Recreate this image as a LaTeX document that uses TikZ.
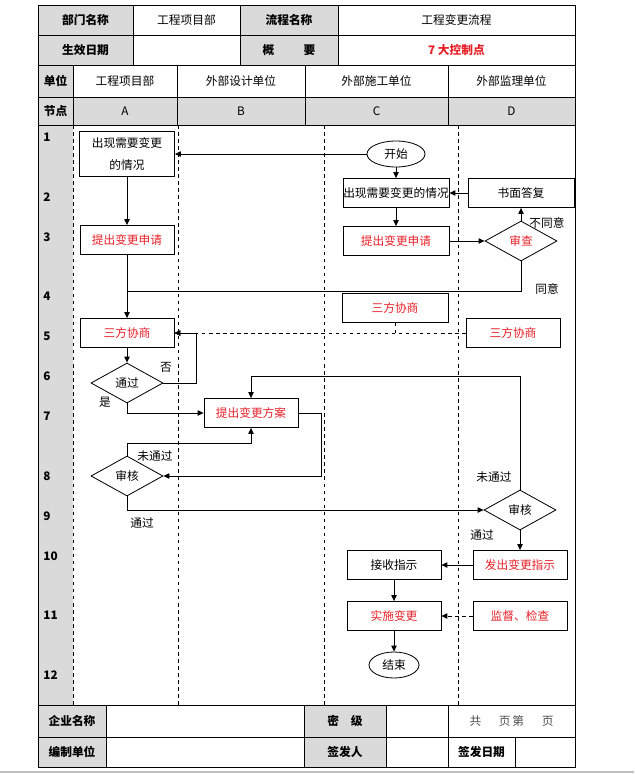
\documentclass[tikz,border=0pt]{standalone}
\usepackage{fontspec}
\setmainfont{Noto Sans CJK SC}
\usepackage{tikz}
\usetikzlibrary{positioning,shapes.geometric,arrows.meta}
\definecolor{sheetred}{RGB}{232,32,40}
\definecolor{sheetgray}{RGB}{218,218,218}

\begin{document}
\begin{tikzpicture}[x=0.03cm, y=-0.03cm, line width=0.7pt,
  >={Triangle[length=5pt,width=4.5pt]},
  box/.style={shape=rectangle, draw=black, minimum width=2.82cm, minimum height=0.87cm, inner sep=0pt},
  widebox/.style={box, minimum width=3.18cm},
  redtext/.style={text=sheetred},
  decision/.style={shape=diamond, draw=black, minimum width=2.16cm, minimum height=1.2cm, inner sep=0pt, aspect=1.8},
  terminal/.style={shape=ellipse, draw=black, minimum width=1.74cm, minimum height=0.78cm, inner sep=0pt},
  headcell/.style={font=\bfseries},
  lane/.style={dashed, line width=0.6pt}]
\useasboundingbox (0,0) rectangle (634,774);

% shaded cells
\fill[sheetgray] (38,5) rectangle (133,65);
\fill[sheetgray] (240,5) rectangle (338,65);
\fill[sheetgray] (38,65) rectangle (73,705);
\fill[sheetgray] (73,97) rectangle (575,125);
\fill[sheetgray] (38,705) rectangle (106,767);
\fill[sheetgray] (304,705) rectangle (386,767);
\draw[black!25, line width=1.2pt] (0,772) -- (634,772);

% table grid
\draw (38,5) rectangle (575,767);
\foreach \y in {35,65,97,125,705,737}
  \draw (38,\y) -- (575,\y);
\foreach \x in {133,240,338}
  \draw (\x,5) -- (\x,65);
\foreach \x in {73,177,305,448}
  \draw (\x,65) -- (\x,125);
\foreach \x in {106,304,386,448}
  \draw (\x,705) -- (\x,767);
\draw (515,737) -- (515,767);

% swim lanes
\foreach \x in {73,178,324,458}
  \draw[lane] (\x,125) -- (\x,705);

% header texts
\node[headcell] (t1) at (85.5,20) {部门名称};
\node (t2) at (186.5,20) {工程项目部};
\node[headcell] (t3) at (289,20) {流程名称};
\node (t4) at (456.5,20) {工程变更流程};
\node[headcell] (t5) at (85.5,50) {生效日期};
\node[headcell] (t6) at (289,50) {概\hspace{2.5em}要};
\node[headcell, redtext] (t7) at (456.5,50) {7 大控制点};
\node[headcell] (u0) at (55.5,81) {单位};
\node (u1) at (125,81) {工程项目部};
\node (u2) at (241,81) {外部设计单位};
\node (u3) at (376.5,81) {外部施工单位};
\node (u4) at (511.5,81) {外部监理单位};
\node[headcell] (p0) at (55.5,111) {节点};
\node (p1) at (125,111) {A};
\node (p2) at (241,111) {B};
\node (p3) at (376.5,111) {C};
\node (p4) at (511.5,111) {D};

% step numbers
\foreach \n/\y in {1/137,2/197,3/237,4/296,5/336,6/376,7/416,8/476,9/516,10/556,11/615,12/675}
  \node[headcell, anchor=west, inner sep=0pt] (r\n) at (43,\y) {\n};

% footer texts
\node[headcell] (f1) at (72,721) {企业名称};
\node[headcell] (f2) at (345,721) {密\hspace{1em}级};
\node[text=black!70] (f3) at (511.5,721) {共\hspace{1.5em}页\,第\hspace{1.5em}页};
\node[headcell] (f4) at (72,752) {编制单位};
\node[headcell] (f5) at (345,752) {签发人};
\node[headcell] (f6) at (481.5,752) {签发日期};

% flow nodes
\node[box, minimum width=2.85cm, minimum height=1.35cm, align=center] (A1) at (127,154) {出现需要变更\\[6pt]的情况};
\node[box, redtext] (A2) at (127,240) {提出变更申请};
\node[box, redtext] (A3) at (127,333) {三方协商};
\node[decision] (A4) at (127,383) {通过};
\node[decision] (A5) at (127,476) {审核};
\node[box, redtext] (B1) at (251,413) {提出变更方案};
\node[terminal] (C0) at (396,154) {开始};
\node[widebox] (C1) at (396,193) {出现需要变更的情况};
\node[widebox, redtext] (C2) at (396,241) {提出变更申请};
\node[widebox, redtext] (C3) at (395,308) {三方协商};
\node[box] (C4) at (394,565) {接收指示};
\node[box, redtext] (C5) at (394,616) {实施变更};
\node[terminal, minimum width=1.5cm] (C6) at (394,665) {结束};
\node[widebox] (D1) at (521,193) {书面答复};
\node[decision, redtext] (D2) at (521,241) {审查};
\node[box, redtext] (D3) at (513,333) {三方协商};
\node[decision] (D4) at (520,510) {审核};
\node[box, redtext] (D5) at (520,565) {发出变更指示};
\node[box, redtext] (D6) at (520,616) {监督、检查};

% bends
\coordinate (J1) at (127,291);
\coordinate (N1) at (196,333);
\coordinate (N2) at (321,476);
\coordinate (N3) at (127,443);
\coordinate (N4) at (520,376);

% connectors
\draw[->] (C0) -- (A1);
\draw[->] (C0) -- (C1);
\draw[->] (A1) -- (A2);
\draw[->] (C1) -- (C2);
\draw[->] (D1) -- (C1);
\draw[->] (C2) -- (D2);
\draw[->] (D2) -- (D1);
\node (L0) at (547,223) {不同意};
\draw (D2.south) |- (J1);
\node (L1) at (547,289) {同意};
\draw[->] (A2) -- (A3);
\draw[->, dashed] (D3) -- (A3);
\draw[dashed] (C3.south) -- (C3.south |- D3.west);
\draw[->] (A3) -- (A4);
\draw[->] (A4.east) -| (N1) -- (A3.east);
\node (L2) at (166,367) {否};
\draw[->] (A4.south) |- (B1.west);
\node (L3) at (105,402) {是};
\draw[->] (B1.east) -| (N2) -- (A5.east);
\draw[->] (A5.north) -- (N3) -| (B1.south);
\node (L4) at (155,456) {未通过};
\draw[->] (A5.south) |- (D4.west);
\node (L5) at (142,523) {通过};
\draw[->] (D4.north) -- (N4) -| (B1.north);
\node (L6) at (494,477) {未通过};
\draw[->] (D4) -- (D5);
\node (L7) at (482,535) {通过};
\draw[->] (D5) -- (C4);
\draw[->] (C4) -- (C5);
\draw[->, dashed] (D6) -- (C5);
\draw[->] (C5) -- (C6);
\end{tikzpicture}
\end{document}
